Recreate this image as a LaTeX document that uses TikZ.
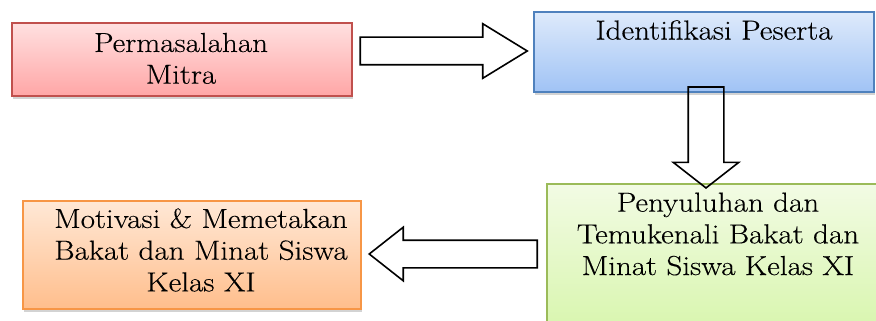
\documentclass[tikz,border=0pt]{standalone}
\usepackage{fontspec}
\setmainfont{Latin Modern Roman}[FakeStretch=1.13, FakeBold=0.3]
\usetikzlibrary{positioning, shapes.arrows, shadows}

\definecolor{redline}{RGB}{192,80,77}
\definecolor{redtop}{RGB}{255,224,224}
\definecolor{redbot}{RGB}{255,166,166}
\definecolor{blueline}{RGB}{79,129,189}
\definecolor{bluetop}{RGB}{222,234,251}
\definecolor{bluebot}{RGB}{160,195,245}
\definecolor{greenline}{RGB}{155,187,89}
\definecolor{greentop}{RGB}{242,251,228}
\definecolor{greenbot}{RGB}{212,245,165}
\definecolor{orangeline}{RGB}{247,150,70}
\definecolor{orangetop}{RGB}{255,232,214}
\definecolor{orangebot}{RGB}{255,190,140}

\tikzset{
  flowbox/.style={rectangle, inner sep=0pt, line width=1.2pt,
    drop shadow={shadow xshift=1pt, shadow yshift=-3pt, opacity=0.35}},
  boxtext/.style={align=center, inner sep=0pt, font=\fontsize{27.5}{31.7}\selectfont},
  blockarrow/.style={single arrow, draw=black, line width=1.6pt,
    single arrow head indent=0pt},
}

\begin{document}
\begin{tikzpicture}[x=1pt, y=-1pt]
  \clip (0,0) rectangle (876,321);
  % boxes
  \node[flowbox, draw=redline, top color=redtop, bottom color=redbot,
        minimum width=340pt, minimum height=73pt] (masalah) at (182,59.5) {};
  \node[flowbox, draw=blueline, top color=bluetop, bottom color=bluebot,
        minimum width=340pt, minimum height=80pt] (identifikasi) at (704,52) {};
  \node[flowbox, draw=greenline, top color=greentop, bottom color=greenbot,
        minimum width=360pt, minimum height=170pt] (penyuluhan) at (727,269) {};
  \node[flowbox, draw=orangeline, top color=orangetop, bottom color=orangebot,
        minimum width=338pt, minimum height=108pt] (motivasi) at (192,255) {};

  % texts
  \node[boxtext] (masalahtxt) at (181,58.4) {Permasalahan\\Mitra};
  \node[boxtext] (identifikasitxt) at (714,30) {Identifikasi Peserta};
  \node[boxtext] (penyuluhantxt) at (718,234) {Penyuluhan dan\\Temukenali Bakat dan\\Minat Siswa Kelas XI};
  \node[boxtext] (motivasitxt) at (201,250) {Motivasi \& Memetakan\\Bakat dan Minat Siswa\\Kelas XI};

  % block arrows
  \node[blockarrow, inner xsep=0pt, inner ysep=13pt, single arrow head extend=13.5pt,
        single arrow tip angle=63, minimum height=167pt] (arrA) at (432.5,51) {};
  \node[blockarrow, inner xsep=17pt, inner ysep=0pt, single arrow head extend=15pt,
        single arrow tip angle=104, minimum height=101pt,
        shape border rotate=270] (arrB) at (706,130.5) {};
  \node[blockarrow, inner xsep=0pt, inner ysep=13pt, single arrow head extend=13pt,
        single arrow tip angle=76.5, minimum height=168pt,
        shape border rotate=180] (arrC) at (462,254) {};
\end{tikzpicture}
\end{document}
